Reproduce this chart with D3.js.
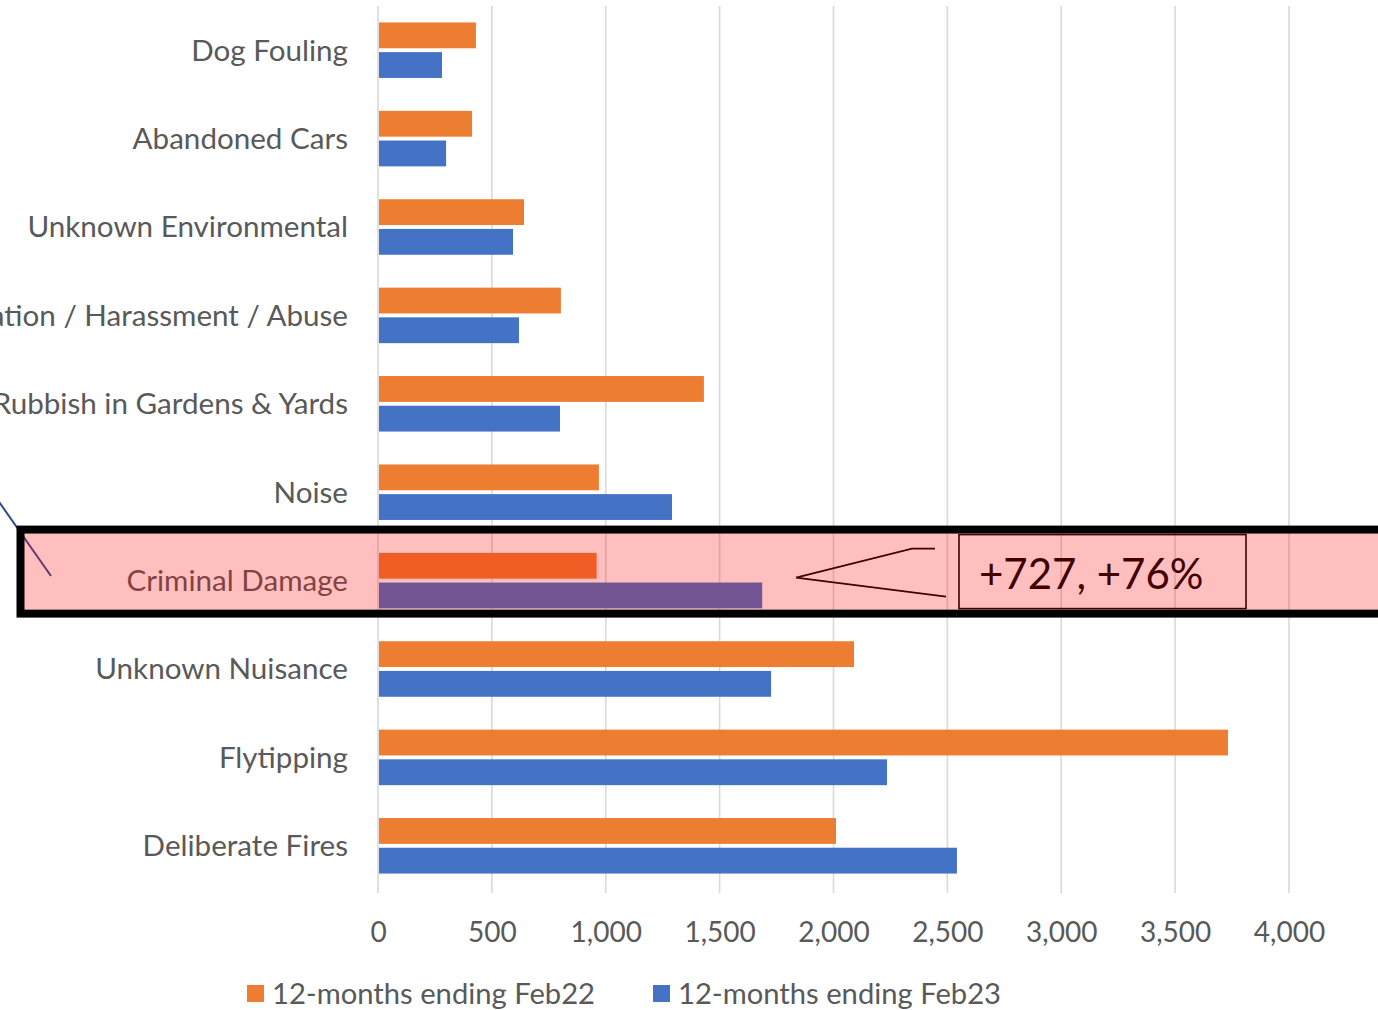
<!DOCTYPE html>
<html><head><meta charset="utf-8">
<script src="https://cdn.jsdelivr.net/npm/d3@7"></script>
<style>html,body{margin:0;padding:0;background:#fff;overflow:hidden}svg{display:block}</style>
</head><body>
<svg id="chart" width="1378" height="1010"></svg>
<script>
const categories = ["Dog Fouling","Abandoned Cars","Unknown Environmental","Intimidation / Harassment / Abuse","Rubbish in Gardens & Yards","Noise","Criminal Damage","Unknown Nuisance","Flytipping","Deliberate Fires"];
const seriesNames = ["12-months ending Feb22","12-months ending Feb23"];
const feb22 = [430, 413, 641, 803, 1431, 970, 960, 2090, 3732, 2011];
const feb23 = [281, 299, 593, 619, 799, 1291, 1687, 1726, 2235, 2542];
const xTicks = [0,500,1000,1500,2000,2500,3000,3500,4000];
const highlightCategory = "Criminal Damage";
const calloutText = "+727, +76%";
const colors = ["#ED7D31","#4472C4"];

const svg = d3.select("#chart");
const font = "Lato, 'Open Sans', sans-serif";
const x = d3.scaleLinear().domain([0,4000]).range([378,1289]);
const y = d3.scaleBand().domain(categories).range([6,890]).paddingInner(0.372).paddingOuter(0.186);
const ys = d3.scaleBand().domain([0,1]).range([0,y.bandwidth()]).paddingInner(0.13);

// gridlines
svg.append("g").selectAll("line").data(xTicks).join("line")
  .attr("x1",d=>x(d)).attr("x2",d=>x(d)).attr("y1",6).attr("y2",893)
  .attr("stroke","#d9d9d9").attr("stroke-width",1.6);

// axis labels
const xAxis = d3.axisBottom(x).tickValues(xTicks).tickFormat(d3.format(",")).tickSize(0).tickPadding(0);
const ax = svg.append("g").attr("transform","translate(0,932)").call(xAxis);
ax.select(".domain").remove();
ax.selectAll("text").attr("font-family",font).attr("font-size",28).attr("fill","#595959")
  .attr("dy","0.35em").attr("y",0);

// bars
const rows = categories.map((c,i)=>({c, v:[feb22[i],feb23[i]]}));
const g = svg.append("g");
rows.forEach(r=>{
  r.v.forEach((v,s)=>{
    g.append("rect").attr("x",x(0)+1).attr("y",y(r.c)+ys(s))
      .attr("width",x(v)-x(0)-1).attr("height",ys.bandwidth()).attr("fill",colors[s]);
  });
});

// category labels
const yAxis = d3.axisLeft(y).tickSize(0).tickPadding(0);
const ay = svg.append("g").attr("transform","translate(348,0)").call(yAxis);
ay.select(".domain").remove();
ay.selectAll("text").attr("font-family",font).attr("font-size",29.6).attr("fill","#595959").attr("dy","0.35em");

// diagonal line
svg.append("line").attr("x1",-10).attr("y1",489).attr("x2",51).attr("y2",576)
  .attr("stroke","#2F4B8F").attr("stroke-width",2);

// callout
const hy = y(highlightCategory)+y.bandwidth()/2;
const cg = svg.append("g");
cg.append("polyline").attr("points",`935,${hy-32} 912,${hy-32} 796,${hy-3} 946,${hy+16}`)
  .attr("fill","none").attr("stroke","#000").attr("stroke-width",1.6);
cg.append("rect").attr("x",959).attr("y",hy-46).attr("width",287).attr("height",74)
  .attr("fill","none").attr("stroke","#000").attr("stroke-width",1.6);
cg.append("text").attr("x",979).attr("y",hy+8).attr("font-family",font).attr("font-size",42)
  .attr("fill","#000").text(calloutText);

// highlight overlay
svg.append("rect").attr("x",24).attr("y",hy-47).attr("width",1360).attr("height",76)
  .attr("fill","rgba(255,0,0,0.25)");
svg.append("rect").attr("x",20.5).attr("y",hy-51).attr("width",1370).attr("height",84)
  .attr("fill","none").attr("stroke","#000").attr("stroke-width",8);

// legend
const lg = svg.append("g");
const legX = [247, 653];
seriesNames.forEach((n,i)=>{
  lg.append("rect").attr("x",legX[i]).attr("y",985).attr("width",17).attr("height",17).attr("fill",colors[i]);
  lg.append("text").attr("x",legX[i]+25).attr("y",994).attr("dy","0.35em").attr("font-family",font)
    .attr("font-size",29.2).attr("fill","#595959").text(n);
});
</script>
</body></html>
